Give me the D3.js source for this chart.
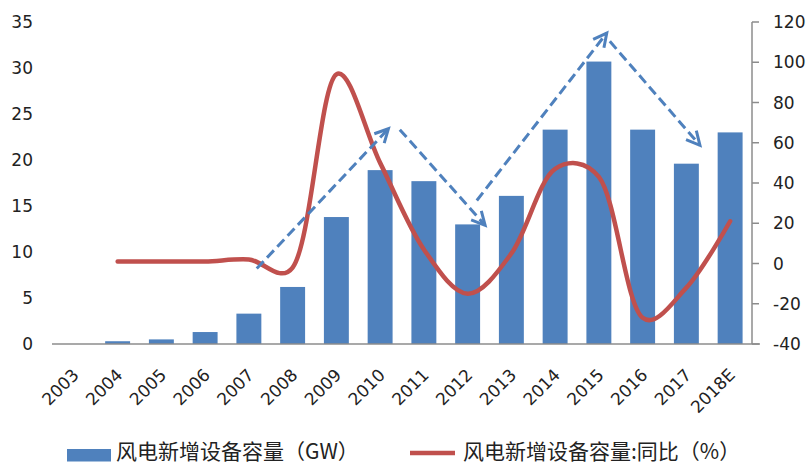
<!DOCTYPE html>
<html>
<head>
<meta charset="utf-8">
<script src="https://cdn.jsdelivr.net/npm/d3@7"></script>
<style>
  body { margin: 0; background: #fff; }
  svg { display: block; }
  .tick-label { font-family: "DejaVu Sans", sans-serif; font-size: 17px; fill: #222; }
  .legend-text { font-family: "Noto Sans CJK SC", sans-serif; font-size: 21px; fill: #222; }
</style>
</head>
<body>
<svg id="chart" width="812" height="463"></svg>
<script>
// data
const years = ["2003", "2004", "2005", "2006", "2007", "2008", "2009", "2010",
  "2011", "2012", "2013", "2014", "2015", "2016", "2017", "2018E"];
const capacity = [0, 0.3, 0.5, 1.3, 3.3, 6.2, 13.8, 18.9, 17.7, 13, 16.1, 23.3, 30.7, 23.3, 19.6, 23];
const growth = [null, 1, 1, 1, 2, -2, 94, 50, 7, -15, 5, 47, 43, -27, -12, 21];
const leftTicks = [0, 5, 10, 15, 20, 25, 30, 35];
const rightTicks = [-40, -20, 0, 20, 40, 60, 80, 100, 120];
// trend arrows: [category index, left-axis value]
const arrows = [
  [[4.18, 8.2], [7.19, 23.4]],
  [[7.45, 23.3], [9.4, 12.9]],
  [[9.21, 15.6], [12.18, 33.8]],
  [[12.25, 32.9], [14.31, 21.6]],
];

const svg = d3.select("#chart");
const plotLeft = 52, plotRight = 752, plotTop = 22, plotBottom = 344;

const x = d3.scaleBand().domain(years).range([plotLeft, plotRight])
  .paddingInner(0.43).paddingOuter(0.215);
const xIdx = d3.scaleLinear().domain([-0.5, years.length - 0.5]).range([plotLeft, plotRight]);
const yL = d3.scaleLinear().domain([0, 35]).range([plotBottom, plotTop]);
const yR = d3.scaleLinear().domain([-40, 120]).range([plotBottom, plotTop]);

// bars
svg.append("g")
  .selectAll("rect")
  .data(capacity)
  .enter()
  .append("rect")
  .attr("x", (d, i) => x(years[i]))
  .attr("width", x.bandwidth())
  .attr("y", (d) => yL(d))
  .attr("height", (d) => plotBottom - yL(d))
  .style("fill", "#4f81bd");

// x axis line
svg.append("line")
  .attr("x1", plotLeft).attr("x2", plotRight + 8)
  .attr("y1", plotBottom).attr("y2", plotBottom)
  .style("stroke", "#8c8c8c").style("stroke-width", 1.5);

// right axis
const rAxis = svg.append("g");
rAxis.append("line")
  .attr("x1", plotRight).attr("x2", plotRight)
  .attr("y1", plotTop).attr("y2", plotBottom)
  .style("stroke", "#8c8c8c").style("stroke-width", 1.5);
rAxis.selectAll(".rt")
  .data(rightTicks)
  .enter()
  .append("line")
  .attr("x1", plotRight).attr("x2", plotRight + 7)
  .attr("y1", (d) => yR(d)).attr("y2", (d) => yR(d))
  .style("stroke", "#8c8c8c").style("stroke-width", 1.5);
rAxis.selectAll("text")
  .data(rightTicks)
  .enter()
  .append("text")
  .classed("tick-label", true)
  .attr("x", 773)
  .attr("y", (d) => yR(d))
  .attr("dy", "0.36em")
  .text((d) => d);

// left labels
svg.append("g")
  .selectAll("text")
  .data(leftTicks)
  .enter()
  .append("text")
  .classed("tick-label", true)
  .attr("x", 33)
  .attr("y", (d) => yL(d))
  .attr("dy", "0.36em")
  .attr("text-anchor", "end")
  .text((d) => d);

// x labels
svg.append("g")
  .selectAll("text")
  .data(years)
  .enter()
  .append("text")
  .classed("tick-label", true)
  .attr("text-anchor", "end")
  .attr("transform", (d) => `translate(${x(d) + x.bandwidth() / 2 + 6},${plotBottom + 32}) rotate(-45)`)
  .text((d) => d);

// growth line
const line = d3.line()
  .defined((d) => d != null)
  .x((d, i) => x(years[i]) + x.bandwidth() / 2)
  .y((d) => yR(d))
  .curve(d3.curveCatmullRom.alpha(0.25));

svg.append("path")
  .datum(growth)
  .attr("d", line)
  .style("fill", "none")
  .style("stroke", "#c0504d")
  .style("stroke-width", 4.5)
  .style("stroke-linecap", "round");

// dashed trend arrows
const arrowG = svg.append("g")
  .style("stroke", "#4f81bd")
  .style("stroke-width", 3)
  .style("fill", "none");

for (const a of arrows) {
  const x1 = xIdx(a[0][0]), y1 = yL(a[0][1]);
  const x2 = xIdx(a[1][0]), y2 = yL(a[1][1]);
  arrowG.append("line")
    .attr("x1", x1).attr("y1", y1).attr("x2", x2).attr("y2", y2)
    .style("stroke-dasharray", "10,5");
  const ang = Math.atan2(y1 - y2, x1 - x2);
  const headLen = 15, spread = 27 * Math.PI / 180;
  const pts = [
    [x2 + headLen * Math.cos(ang - spread), y2 + headLen * Math.sin(ang - spread)],
    [x2, y2],
    [x2 + headLen * Math.cos(ang + spread), y2 + headLen * Math.sin(ang + spread)],
  ];
  arrowG.append("path")
    .attr("d", d3.line()(pts))
    .style("stroke-linejoin", "miter");
}

// legend
svg.append("rect")
  .attr("x", 67).attr("y", 449)
  .attr("width", 44).attr("height", 12.5)
  .style("fill", "#4f81bd");
svg.append("text")
  .classed("legend-text", true)
  .attr("x", 116).attr("y", 459)
  .text("风电新增设备容量（GW）");
svg.append("line")
  .attr("x1", 410).attr("x2", 455)
  .attr("y1", 453).attr("y2", 453)
  .style("stroke", "#c0504d").style("stroke-width", 4.5);
svg.append("text")
  .classed("legend-text", true)
  .attr("x", 463).attr("y", 459)
  .text("风电新增设备容量:同比（%）");
</script>
</body>
</html>
